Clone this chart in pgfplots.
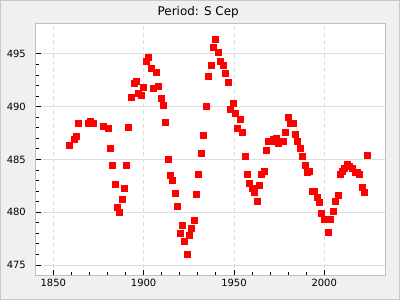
\documentclass[border=0pt]{standalone}
\usepackage{fontspec}
\setmainfont{DejaVu Sans}
\usepackage{pgfplots}
\pgfplotsset{compat=1.18}
\definecolor{bg}{HTML}{F0F0F0}
\definecolor{framec}{HTML}{C8C8C8}
\definecolor{axisgray}{HTML}{BEBEBE}
\definecolor{gridgray}{HTML}{DDDDDD}
\begin{document}
\begin{tikzpicture}[x=1bp,y=1bp]
\useasboundingbox (0,0) rectangle (400,300);
\fill[bg] (0,0) rectangle (400,300);
\draw[framec, line width=1bp] (0.5,0.5) rectangle (399.5,299.5);
\node[font=\fontsize{12}{14}\selectfont, anchor=base, inner sep=0pt] at (198.2,285) {Period: S Cep};
\begin{axis}[at={(35.7bp,25bp)}, anchor=south west, scale only axis,
  width=349.6bp, height=251.7bp,
  xmin=1840.25, xmax=2033.8, ymin=474.05, ymax=497.9,
  axis background/.style={fill=white},
  axis line style={axisgray, line width=0.8bp},
  xtick={1850,1900,1950,2000}, ytick={475,480,485,490,495},
  minor x tick num=4, minor y tick num=4,
  tick align=inside, tick pos=left,
  major tick length=5bp, minor tick length=3bp,
  every tick/.style={black, line width=0.8bp},
  xmajorgrids, ymajorgrids,
  x grid style={gridgray, line width=0.8bp, dash pattern=on 4bp off 3bp},
  y grid style={gridgray, line width=0.8bp},
  /pgf/number format/assume math mode=true,
  /pgf/number format/1000 sep={},
  ticklabel style={font=\fontsize{10}{12}\selectfont},
  yticklabel style={anchor=east, xshift=-6.4bp},
  xticklabel style={anchor=north, yshift=-1bp},
  clip=false,
]
\addplot[only marks, mark=square*, mark size=3bp, mark options={fill=red, draw=red, line width=0pt}] coordinates {
(1858.86,486.35) (1861.63,486.91) (1862.74,487.20) (1863.84,488.43) (1869.38,488.43)
(1870.49,488.62) (1872.15,488.43) (1877.69,488.15) (1880.45,487.96) (1881.56,486.06)
(1882.67,484.45) (1884.33,482.65) (1885.44,480.47) (1886.54,479.99) (1888.21,481.23)
(1889.31,482.27) (1890.42,484.45) (1891.53,488.05) (1893.19,490.90) (1894.85,492.22)
(1895.96,492.41) (1897.07,491.27) (1898.73,491.09) (1899.83,491.84) (1901.50,494.31)
(1902.60,494.69) (1904.26,493.64) (1905.37,491.75) (1907.03,493.27) (1908.14,491.94)
(1909.80,490.80) (1910.91,490.14) (1912.02,488.46) (1913.68,485.02) (1914.78,483.51)
(1915.89,483.03) (1917.55,481.80) (1918.66,480.56) (1920.32,478.00) (1921.43,478.76)
(1922.54,477.25) (1924.20,476.01) (1925.30,477.82) (1926.41,478.48) (1928.07,479.24)
(1929.18,481.70) (1930.29,483.60) (1931.95,485.59) (1933.06,487.29) (1934.72,490.04)
(1935.82,492.89) (1937.49,493.93) (1938.59,495.64) (1939.70,496.39) (1941.36,495.16)
(1942.47,494.31) (1944.13,493.93) (1945.24,493.17) (1946.90,492.32) (1948.01,489.76)
(1949.67,490.33) (1950.78,489.38) (1951.88,487.96) (1953.54,488.81) (1954.65,487.58)
(1956.31,485.30) (1957.42,483.60) (1958.53,482.74) (1960.19,482.27) (1961.30,481.89)
(1962.96,481.03) (1964.06,482.55) (1965.17,483.60) (1966.83,483.88) (1967.94,485.87)
(1969.05,486.73) (1970.71,486.73) (1971.82,486.91) (1973.48,487.01) (1974.58,486.54)
(1976.25,486.73) (1977.35,486.73) (1978.46,487.58) (1980.12,489.00) (1981.23,488.43)
(1982.89,488.43) (1984.00,487.39) (1985.11,486.73) (1986.77,486.06) (1987.87,485.30)
(1989.53,484.45) (1990.64,483.79) (1991.75,483.88) (1993.41,481.99) (1994.52,481.99)
(1996.18,481.42) (1997.29,480.94) (1998.39,479.90) (2000.06,479.33) (2001.72,479.33)
(2002.27,478.10) (2003.38,479.33) (2005.04,480.09) (2006.15,481.04) (2007.81,481.61)
(2008.91,483.60) (2010.02,483.88) (2011.13,484.17) (2012.79,484.55) (2013.90,484.36)
(2015.56,484.17) (2017.22,483.79) (2018.33,483.79) (2019.44,483.60) (2021.10,482.36)
(2022.20,481.89) (2023.87,485.40)
};
\end{axis}
\end{tikzpicture}
\end{document}
